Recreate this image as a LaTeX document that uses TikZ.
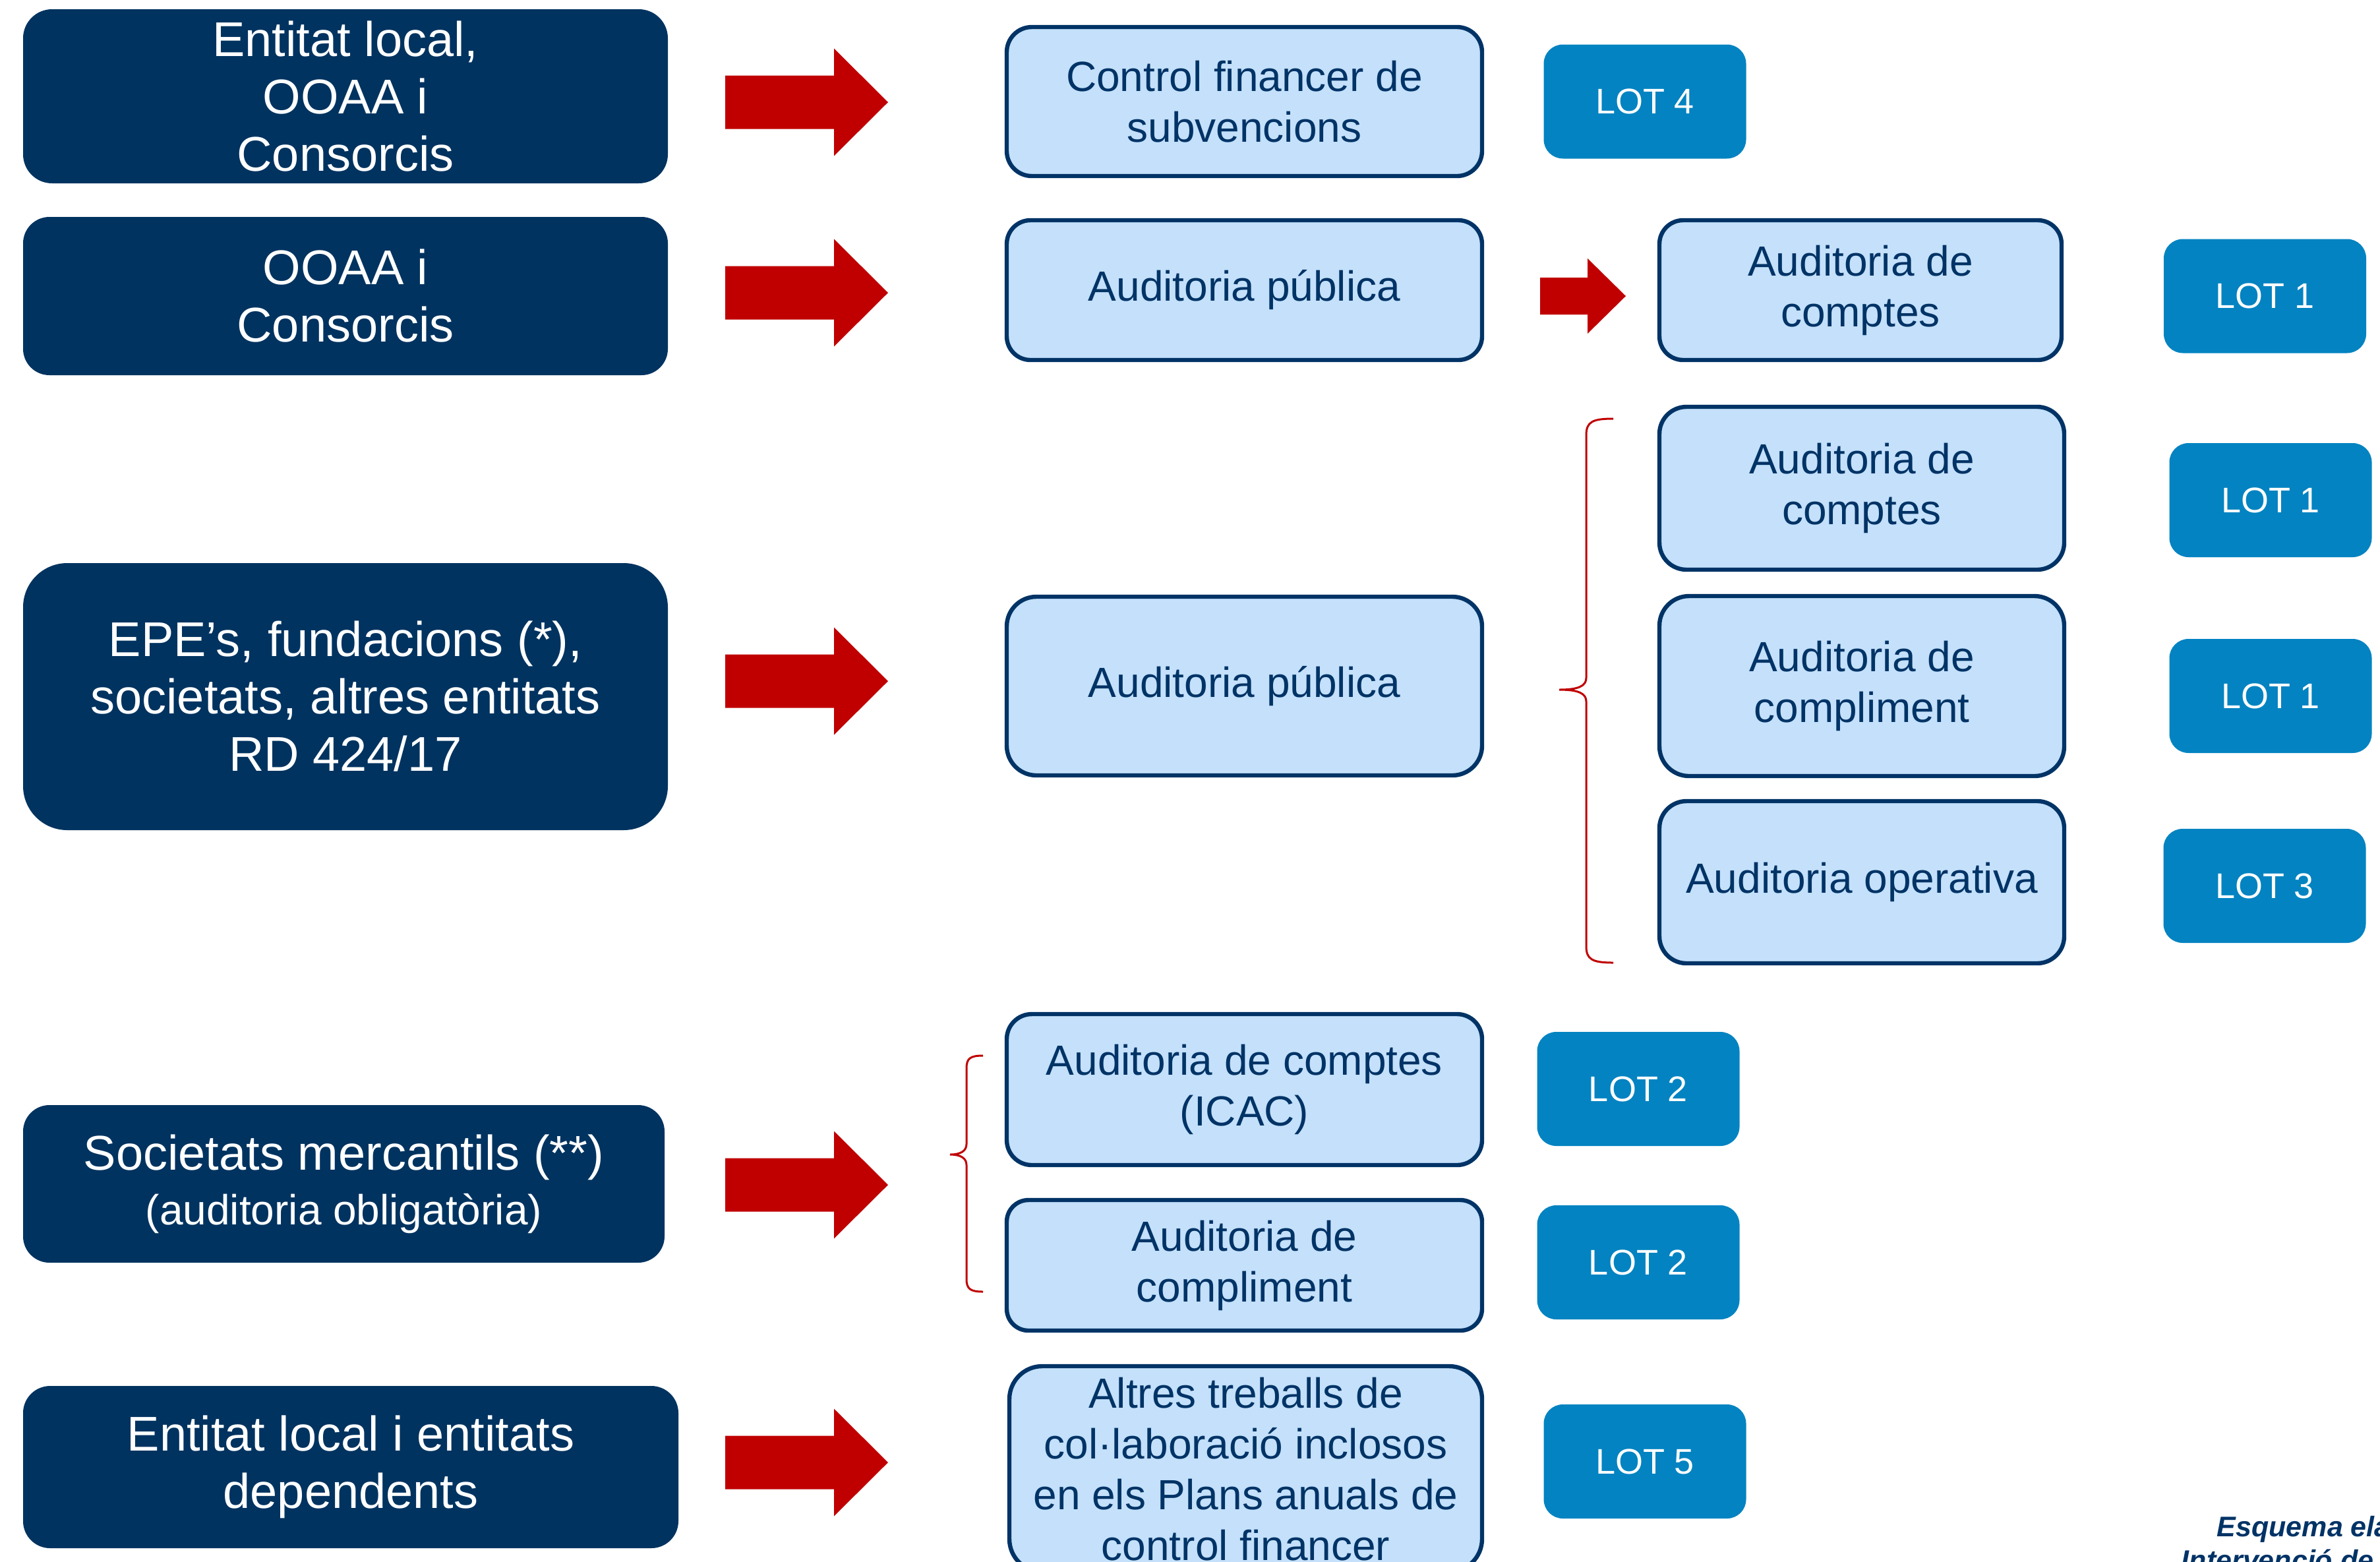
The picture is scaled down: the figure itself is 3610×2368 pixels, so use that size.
\documentclass[tikz,border=0pt]{standalone}
\usepackage{fontspec}
\setmainfont{Liberation Sans}
\definecolor{navy}{HTML}{003360}
\definecolor{lightfill}{HTML}{C4E0FA}
\definecolor{boxline}{HTML}{003366}
\definecolor{lotblue}{HTML}{0383C1}
\definecolor{arrred}{HTML}{C00000}
\newcommand{\blockarr}[6]{%
  \fill[arrred] (#1,#3-#4) -- (#2-#6,#3-#4) -- (#2-#6,#3-#5) -- (#2,#3)
    -- (#2-#6,#3+#5) -- (#2-#6,#3+#4) -- (#1,#3+#4) -- cycle;}
\tikzset{
  box/.style n args={3}{minimum width=#1*0.25pt, minimum height=#2*0.25pt, rounded corners=#3*0.25pt},
  darkbox/.style={fill=navy, text=white, align=center, inner sep=0pt,
    font=\fontsize{18.5}{21.75}\selectfont},
  lightbox/.style={fill=lightfill, draw=boxline, line width=1.6pt, text=boxline,
    align=center, inner sep=0pt, font=\fontsize{16}{19.25}\selectfont},
  lotbox/.style={fill=lotblue, text=white, inner sep=0pt, box={307}{173}{29},
    font=\fontsize{13.5}{16}\selectfont},
  bracestyle/.style={draw=arrred, line width=0.75pt},
  footnote/.style={anchor=base west, inner sep=0pt, text=boxline,
    font=\fontsize{10.75}{13}\selectfont\bfseries\itshape},
}
\begin{document}
\begin{tikzpicture}[x=0.25pt, y=-0.25pt]
\fill[white] (0,0) rectangle (3610,2368);
\useasboundingbox (0,0) rectangle (3610,2368);

% left dark boxes
\node[darkbox, box={978}{264}{44}] (b1) at (524,146) {Entitat local,\\OOAA i\\Consorcis};
\node[darkbox, box={978}{240}{40}] (b2) at (524,449) {OOAA i\\Consorcis};
\node[darkbox, box={978}{405}{67}] (b3) at (524,1056.5) {EPE’s, fundacions (*),\\societats, altres entitats\\RD 424/17};
\node[darkbox, box={973}{239}{40}] (b4) at (521.5,1795.5) {Societats mercantils (**)\\[-1pt]{\fontsize{16}{19}\selectfont (auditoria obligatòria)}};
\node[darkbox, box={994}{246}{41}] (b5) at (532,2225) {Entitat local i entitats\\dependents};

% big red arrows
\blockarr{1100}{1347}{155}{40.5}{81.5}{82}
\blockarr{1100}{1347}{444}{40.5}{81.5}{82}
\blockarr{1100}{1347}{1033}{40.5}{81.5}{82}
\blockarr{1100}{1347}{1797}{40.5}{81.5}{82}
\blockarr{1100}{1347}{2218}{40.5}{81.5}{82}

% middle light boxes
\node[lightbox, box={721}{226}{38}] (m1) at (1887.5,154) {Control financer de\\subvencions};
\node[lightbox, box={721}{212}{36}] (m2) at (1887.5,440) {Auditoria pública};
\node[lightbox, box={721}{271}{45}] (m3) at (1887.5,1040.5) {Auditoria pública};
\node[lightbox, box={721}{229}{38}] (m4) at (1887.5,1652.5) {Auditoria de comptes\\(ICAC)};
\node[lightbox, box={721}{198}{33}] (m5) at (1887.5,1919) {Auditoria de\\compliment};
\node[lightbox, box={717}{312}{50}] (m6) at (1889.5,2228) {Altres treballs de\\col·laboració inclosos\\en els Plans anuals de\\control financer};

% small arrow
\blockarr{2336}{2466}{449}{28}{57}{58}

% right light boxes
\node[lightbox, box={610}{212}{36}] (r1) at (2822,440) {Auditoria de\\comptes};
\node[lightbox, box={614}{247}{41}] (r2) at (2824,740.5) {Auditoria de\\comptes};
\node[lightbox, box={614}{273}{45}] (r3) at (2824,1040.5) {Auditoria de\\compliment};
\node[lightbox, box={614}{246}{41}] (r4) at (2824,1338) {Auditoria operativa};

% braces
\draw[bracestyle] (2447,635) .. controls (2415,635) and (2406,640) .. (2406,660)
  -- (2406,1028) .. controls (2406,1040) and (2395,1046) .. (2365,1046)
  .. controls (2395,1046) and (2406,1052) .. (2406,1064)
  -- (2406,1435) .. controls (2406,1455) and (2415,1460) .. (2447,1460);
\draw[bracestyle] (1491,1601) .. controls (1472,1601) and (1466,1605) .. (1466,1620)
  -- (1466,1735) .. controls (1466,1745) and (1458,1751) .. (1441,1751)
  .. controls (1458,1751) and (1466,1757) .. (1466,1767)
  -- (1466,1940) .. controls (1466,1955) and (1472,1959) .. (1491,1959);

% LOT boxes
\node[lotbox] (lot4) at (2495,154) {LOT 4};
\node[lotbox] (lot1a) at (3435.5,449) {LOT 1};
\node[lotbox] (lot1b) at (3444,758.5) {LOT 1};
\node[lotbox] (lot1c) at (3444,1055.5) {LOT 1};
\node[lotbox] (lot3) at (3435,1343.5) {LOT 3};
\node[lotbox] (lot2a) at (2485,1651.5) {LOT 2};
\node[lotbox] (lot2b) at (2485,1914.5) {LOT 2};
\node[lotbox] (lot5) at (2495,2216.5) {LOT 5};

% footnote (cropped at page edge)
\node[footnote] (fn1) at (3362,2330) {Esquema ela};
\node[footnote] (fn2) at (3308,2381) {Intervenció de};
\end{tikzpicture}
\end{document}
